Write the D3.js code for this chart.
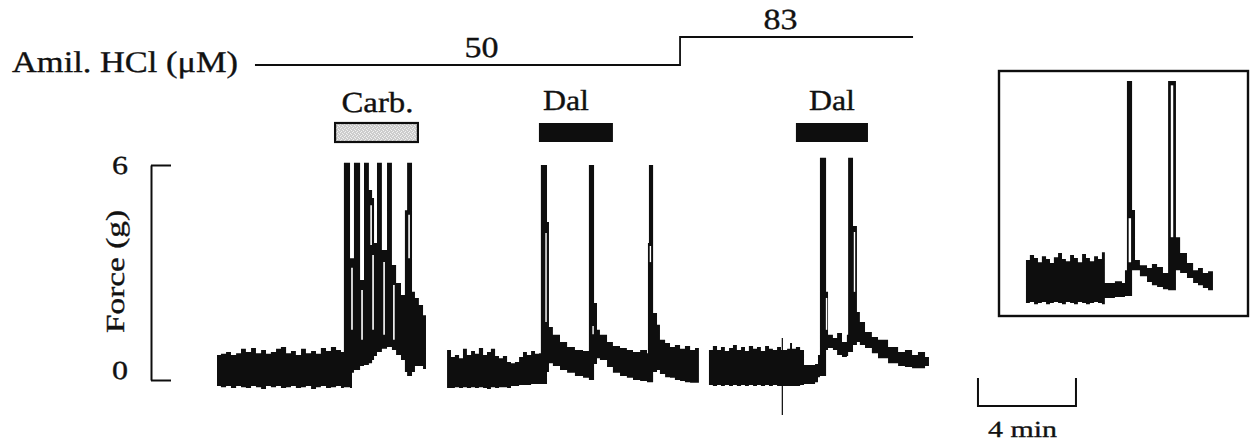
<!DOCTYPE html>
<html>
<head>
<meta charset="utf-8">
<script src="https://cdn.jsdelivr.net/npm/d3@7"></script>
<style>
  body { margin: 0; background: #fff; }
  svg { display: block; }
  text { font-family: "Liberation Serif", "Times New Roman", serif; fill: #111; stroke: #111; stroke-width: 0.35; text-rendering: geometricPrecision; }
</style>
</head>
<body>
<svg id="chart" width="1254" height="442"></svg>
<script>
/* trace samples: [time (min), upper edge (g), lower edge (g)] */
const controlTrace = [
  [0, 0.70, -0.17], [0.16, 0.73, -0.20], [0.37, 0.78, -0.17], [0.57, 0.70, -0.22],
  [0.78, 0.75, -0.17], [0.98, 0.87, -0.20], [1.18, 0.78, -0.22], [1.39, 0.89, -0.17],
  [1.59, 0.75, -0.20], [1.80, 0.84, -0.25], [2.00, 0.73, -0.17], [2.20, 0.78, -0.20],
  [2.41, 0.87, -0.17], [2.61, 0.92, -0.22], [2.82, 0.75, -0.20], [3.02, 0.81, -0.17],
  [3.22, 0.70, -0.22], [3.43, 0.87, -0.20], [3.63, 0.75, -0.17], [3.84, 0.81, -0.25],
  [4.04, 0.73, -0.20], [4.24, 0.89, -0.17], [4.45, 0.81, -0.22], [4.65, 0.92, -0.20],
  [4.86, 0.84, -0.17], [5.06, 0.78, -0.22], [5.18, 0.81, -0.20]
];
const carbTrace = [
  [5.18, 6.06, -0.20], [5.43, 6.06, -0.22], [5.43, 3.40, -0.22], [5.51, 3.40, 0.20],
  [5.59, 3.29, 0.28], [5.59, 6.06, 0.28], [5.84, 6.06, 0.39], [5.84, 2.79, 0.39],
  [6.00, 2.62, 0.39], [6.00, 6.06, 0.42], [6.20, 6.06, 0.47], [6.20, 5.30, 0.47],
  [6.33, 5.08, 0.56], [6.41, 3.82, 0.67], [6.53, 3.82, 0.78], [6.53, 6.06, 0.78],
  [6.73, 6.06, 0.87], [6.73, 3.63, 0.87], [6.94, 3.40, 0.92], [6.94, 6.06, 0.92],
  [7.14, 6.06, 0.87], [7.14, 3.21, 0.84], [7.31, 2.71, 0.70], [7.51, 2.37, 0.56],
  [7.67, 1.90, 0.28], [7.67, 4.74, 0.22], [7.76, 4.74, 0.11], [7.76, 6.06, 0.11],
  [7.96, 6.06, 0.08], [7.96, 2.46, 0.22], [8.08, 2.29, 0.39], [8.24, 2.09, 0.39],
  [8.41, 1.81, 0.31], [8.53, 1.62, 0.22]
];
// white gaps inside the dark band: [time, top (g), bottom (g)]
const carbGaps = [
  [5.51, 3.13, 1.40], [5.92, 2.51, 1.12], [6.29, 4.88, 3.77], [6.37, 3.49, 1.40],
  [6.82, 3.29, 1.26], [7.22, 2.65, 1.12], [7.84, 4.61, 3.40]
];
const dal1Trace = [
  [9.39, 0.84, -0.22], [9.55, 0.64, -0.22], [9.71, 0.70, -0.20], [9.88, 0.61, -0.22],
  [10.04, 0.87, -0.20], [10.20, 0.70, -0.22], [10.37, 0.81, -0.20], [10.53, 0.73, -0.22],
  [10.69, 0.89, -0.20], [10.86, 0.70, -0.22], [11.02, 0.78, -0.25], [11.18, 0.87, -0.20],
  [11.35, 0.67, -0.22], [11.51, 0.61, -0.20], [11.67, 0.67, -0.20], [11.84, 0.50, -0.22],
  [12.00, 0.47, -0.17], [12.16, 0.50, -0.17], [12.33, 0.64, -0.14], [12.49, 0.78, -0.14],
  [12.65, 0.70, -0.14], [12.82, 0.81, -0.11], [12.98, 0.73, -0.11], [13.14, 0.75, -0.11],
  [13.22, 0.75, -0.11], [13.22, 6.00, -0.11], [13.47, 6.00, -0.11], [13.47, 4.41, 0.22],
  [13.55, 4.41, 0.42], [13.55, 1.48, 0.47], [13.71, 1.26, 0.39], [14.00, 1.06, 0.28],
  [14.29, 0.92, 0.20], [14.61, 0.84, 0.11], [14.94, 0.81, 0.06], [15.18, 0.78, 0],
  [15.18, 6.00, 0], [15.39, 6.00, 0], [15.39, 2.15, 0.45], [15.51, 1.40, 0.61],
  [15.63, 1.26, 0.56], [15.92, 1.06, 0.36], [16.16, 0.95, 0.20], [16.45, 0.89, 0.11],
  [16.73, 0.84, 0.06], [16.98, 0.78, 0], [17.27, 0.84, -0.03], [17.55, 0.75, -0.06],
  [17.59, 0.75, -0.06], [17.59, 3.82, -0.06], [17.63, 3.82, -0.06], [17.63, 6.00, -0.06],
  [17.80, 6.00, -0.06], [17.80, 1.87, 0.22], [17.96, 1.54, 0.28], [18.08, 1.12, 0.17],
  [18.29, 1.03, 0.08], [18.49, 0.92, 0.06], [18.69, 0.98, 0], [18.90, 0.87, -0.03],
  [19.10, 0.95, -0.06], [19.31, 0.84, -0.08], [19.51, 0.89, -0.08], [19.67, 0.84, -0.08]
];
const dal1Gaps = [[13.43, 4.10, 1.62], [15.35, 1.51, 1.28], [17.69, 3.74, 3.29]];
const dal2Trace = [
  [20.08, 0.84, -0.14], [20.24, 0.95, -0.17], [20.41, 0.84, -0.14], [20.57, 0.92, -0.17],
  [20.73, 0.81, -0.14], [20.90, 0.89, -0.17], [21.06, 0.98, -0.14], [21.22, 0.84, -0.17],
  [21.39, 0.92, -0.14], [21.55, 0.81, -0.17], [21.71, 0.95, -0.14], [21.88, 0.87, -0.17],
  [22.04, 0.92, -0.14], [22.20, 0.81, -0.17], [22.37, 0.95, -0.14], [22.53, 0.87, -0.17],
  [22.69, 0.84, -0.14], [22.86, 0.92, -0.17], [23.02, 0.84, -0.17], [23.05, 1.17, -0.98],
  [23.10, 0.84, -0.17], [23.27, 0.87, -0.17], [23.39, 1.03, -0.17], [23.47, 0.87, -0.17],
  [23.63, 0.92, -0.17], [23.80, 0.84, -0.14], [23.96, 0.87, -0.14], [23.96, 0.42, -0.11],
  [24.20, 0.42, -0.11], [24.41, 0.45, -0.06], [24.53, 0.70, 0.08], [24.61, 0.70, 0.11],
  [24.61, 6.20, 0.11], [24.86, 6.20, 0.11], [24.86, 2.46, 0.84], [24.94, 1.26, 0.89],
  [25.14, 1.17, 0.84], [25.31, 1.31, 0.70], [25.51, 1.06, 0.64], [25.71, 1.26, 0.67],
  [25.76, 1.26, 0.78], [25.76, 6.20, 0.78], [25.96, 6.20, 0.78], [25.96, 4.30, 0.98],
  [26.12, 4.30, 1.06], [26.12, 1.90, 1.06], [26.24, 1.62, 0.98], [26.45, 1.34, 0.89],
  [26.73, 1.20, 0.75], [26.98, 1.12, 0.61], [27.39, 0.92, 0.47], [27.80, 0.78, 0.39],
  [28.08, 0.84, 0.36], [28.37, 0.70, 0.33], [28.61, 0.78, 0.33], [28.90, 0.64, 0.39],
  [29.06, 0.70, 0.42]
];
const dal2Gaps = [[24.88, 2.29, 1.40], [26.02, 4.13, 2.46]];
const insetTrace = [
  [0, 1.06, -0.14], [0.16, 1.20, -0.11], [0.33, 1.12, -0.17], [0.49, 1.00, -0.14],
  [0.65, 1.17, -0.11], [0.82, 1.09, -0.17], [0.98, 0.98, -0.14], [1.14, 1.14, -0.11],
  [1.31, 1.26, -0.14], [1.47, 1.09, -0.17], [1.63, 1.03, -0.11], [1.80, 1.20, -0.14],
  [1.96, 1.12, -0.17], [2.12, 1.00, -0.11], [2.29, 1.23, -0.14], [2.45, 1.12, -0.17],
  [2.61, 1.03, -0.14], [2.78, 1.17, -0.11], [2.94, 1.09, -0.14], [3.10, 1.28, -0.17],
  [3.22, 1.17, -0.14], [3.22, 0.42, 0], [3.63, 0.47, 0.03], [3.92, 0.42, 0.03],
  [4.04, 0.78, 0.06], [4.12, 0.78, 0.06], [4.12, 6.06, 0.06], [4.33, 6.06, 0.06],
  [4.33, 2.46, 0.78], [4.45, 2.23, 0.84], [4.45, 1.06, 0.78], [4.65, 0.92, 0.61],
  [4.94, 0.84, 0.45], [5.14, 0.95, 0.36], [5.35, 0.87, 0.31], [5.59, 0.70, 0.25],
  [5.80, 0.64, 0.22], [5.80, 6.06, 0.22], [6.12, 6.06, 0.22], [6.12, 1.70, 0.78],
  [6.29, 1.42, 0.70], [6.29, 1.26, 0.70], [6.57, 0.98, 0.56], [6.82, 0.78, 0.42],
  [7.02, 0.84, 0.36], [7.22, 0.70, 0.28], [7.43, 0.75, 0.22], [7.63, 0.59, 0.17]
];
const insetGaps = [[4.24, 2.23, 1.00], [5.96, 5.94, 1.70]];

// drug applications (min)
const drugLabels = ['Carb.', 'Dal', 'Dal'];
const drugStart = [4.82, 13.14, 23.63];
const drugEnd = [8.20, 16.16, 26.57];

// amiloride HCl concentration steps (µM, min)
const amilConc = [50, 83];
const amilStart = [1.55, 18.9];
const amilEnd = [18.9, 28.41];

const forceTicks = [0, 6];
const timeBarMin = 4;

var svg = d3.select('#chart');

// scales
var x = d3.scaleLinear().domain([0, 30]).range([217, 952]);
var y = d3.scaleLinear().domain([0, 6]).range([380, 165]);
var xIn = d3.scaleLinear().domain([-1.1, 9.06]).range([999, 1248]);
var yIn = d3.scaleLinear().domain([-0.5, 6.34]).range([316, 71]);
var yConc = d3.scaleLinear().domain([50, 83]).range([65, 37]);

var ink = '#0e0e0e';

function band(xs, ys) {
    return d3.area().curve(d3.curveStepAfter)
        .x(function(d) { return xs(d[0]); })
        .y0(function(d) { return ys(d[2]); })
        .y1(function(d) { return ys(d[1]); });
}

function drawGaps(list, xs, ys, w) {
    svg.append('g').selectAll('line')
        .data(list)
      .enter().append('line')
        .attr('x1', function(d) { return xs(d[0]); })
        .attr('x2', function(d) { return xs(d[0]); })
        .attr('y1', function(d) { return ys(d[1]); })
        .attr('y2', function(d) { return ys(d[2]); })
        .attr('stroke', '#fff')
        .attr('stroke-width', w);
}

// stipple pattern for carbachol bar
var pat = svg.append('defs').append('pattern')
    .attr('id', 'stipple').attr('width', 4).attr('height', 4)
    .attr('patternUnits', 'userSpaceOnUse');
pat.append('rect').attr('width', 4).attr('height', 4).attr('fill', '#cdcdcd');
[[0, 0], [2, 1], [1, 3], [3, 2]].forEach(function(p) {
    pat.append('rect').attr('x', p[0]).attr('y', p[1]).attr('width', 1).attr('height', 1).attr('fill', '#f2f2f2');
});

// main traces
var mainBand = band(x, y);
svg.append('g').selectAll('path')
    .data([controlTrace.concat(carbTrace), dal1Trace, dal2Trace])
  .enter().append('path')
    .attr('d', mainBand)
    .attr('fill', ink);
drawGaps(carbGaps, x, y, 1.6);
drawGaps(dal1Gaps, x, y, 1.4);
drawGaps(dal2Gaps, x, y, 1.4);

// force scale bar
var fAxis = d3.axisLeft(y).tickValues(forceTicks).tickSize(-20).tickSizeOuter(0).tickPadding(23)
    .tickFormat(d3.format('d'));
var ga = svg.append('g').attr('transform', 'translate(151,0)').call(fAxis);
ga.attr('font-family', null).attr('font-size', 26);
ga.selectAll('path, line').attr('stroke', ink).attr('stroke-width', 2);
ga.selectAll('text')
    .attr('fill', ink)
    .attr('textLength', 16).attr('lengthAdjust', 'spacingAndGlyphs')
    .attr('dy', function(d) { return d === 0 ? '-0.04em' : '0.32em'; });

svg.append('text')
    .attr('transform', 'translate(124,271.5) rotate(-90)')
    .attr('text-anchor', 'middle')
    .attr('font-size', 26)
    .attr('fill', ink)
    .attr('textLength', 123).attr('lengthAdjust', 'spacingAndGlyphs')
    .text('Force (g)');

// drug bars
var labelDx = [1, -10, 0];
drugLabels.forEach(function(name, i) {
    var x0 = x(drugStart[i]), x1 = x(drugEnd[i]);
    svg.append('rect')
        .attr('x', x0).attr('y', 123)
        .attr('width', x1 - x0).attr('height', 19)
        .attr('fill', i === 0 ? 'url(#stipple)' : ink)
        .attr('stroke', ink).attr('stroke-width', i === 0 ? 2.2 : 0);
    svg.append('text')
        .attr('x', (x0 + x1) / 2 + labelDx[i]).attr('y', i === 0 ? 112 : 110)
        .attr('text-anchor', 'middle')
        .attr('font-size', 29)
        .attr('textLength', i === 0 ? 72 : 46).attr('lengthAdjust', 'spacingAndGlyphs')
        .text(name);
});

// amiloride line
var amilPath = d3.path();
amilConc.forEach(function(c, i) {
    if (i === 0) amilPath.moveTo(x(amilStart[i]), yConc(c));
    else amilPath.lineTo(x(amilStart[i]), yConc(c));
    amilPath.lineTo(x(amilEnd[i]), yConc(c));
});
svg.append('path').attr('d', amilPath.toString())
    .attr('fill', 'none').attr('stroke', ink).attr('stroke-width', 1.8);

var concDx = [14, -16];
amilConc.forEach(function(c, i) {
    svg.append('text')
        .attr('x', x((amilStart[i] + amilEnd[i]) / 2) + concDx[i])
        .attr('y', yConc(c) - 8)
        .attr('text-anchor', 'middle')
        .attr('font-size', 29)
        .attr('textLength', 34).attr('lengthAdjust', 'spacingAndGlyphs')
        .text(c);
});
svg.append('text')
    .attr('x', 12).attr('y', 72)
    .attr('font-size', 30)
    .attr('textLength', 226).attr('lengthAdjust', 'spacingAndGlyphs')
    .text('Amil. HCl (\u03bcM)');

// inset
svg.append('rect')
    .attr('x', xIn.range()[0]).attr('y', yIn.range()[1])
    .attr('width', xIn.range()[1] - xIn.range()[0])
    .attr('height', yIn.range()[0] - yIn.range()[1])
    .attr('fill', 'none').attr('stroke', ink).attr('stroke-width', 2.4);
svg.append('path').datum(insetTrace).attr('d', band(xIn, yIn)).attr('fill', ink);
drawGaps(insetGaps, xIn, yIn, 2.4);

// time scale bar
var tb0 = 31.06;
var tbPath = d3.path();
tbPath.moveTo(x(tb0), 378);
tbPath.lineTo(x(tb0), 406);
tbPath.lineTo(x(tb0 + timeBarMin), 406);
tbPath.lineTo(x(tb0 + timeBarMin), 378);
svg.append('path').attr('d', tbPath.toString())
    .attr('fill', 'none').attr('stroke', ink).attr('stroke-width', 2);
svg.append('text')
    .attr('x', 988).attr('y', 437)
    .attr('font-size', 23)
    .attr('textLength', 69).attr('lengthAdjust', 'spacingAndGlyphs')
    .text(timeBarMin + ' min');
</script>
</body>
</html>
